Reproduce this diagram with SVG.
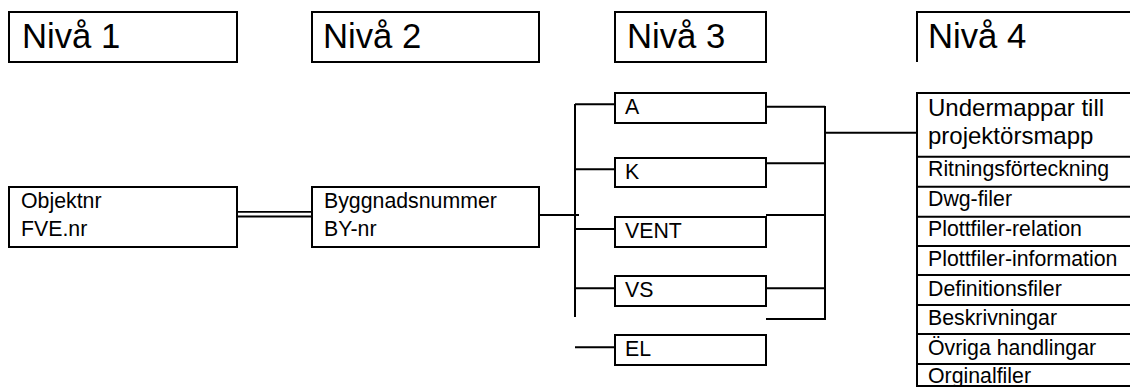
<svg xmlns="http://www.w3.org/2000/svg" width="1130" height="387" viewBox="0 0 1130 387">
<style>
.box{fill:#fff;stroke:#000;stroke-width:2}
.ln{fill:none;stroke:#000;stroke-width:2}
.thin{fill:none;stroke:#000;stroke-width:1.8}
text{font-family:"Liberation Sans",Arial,sans-serif;fill:#000}
.h{font-size:34.7px}
.t{font-size:21.3px}
.b{font-size:24px}
</style>
<rect width="1130" height="387" fill="#fff"/>
<g id="niva1"><rect class="box" x="9" y="12" width="228" height="50"/><text class="h" x="22" y="48">Nivå 1</text></g>
<g id="niva2"><rect class="box" x="312" y="12" width="227" height="50"/><text class="h" x="323" y="48">Nivå 2</text></g>
<g id="niva3"><rect class="box" x="615" y="12" width="151" height="50"/><text class="h" x="627" y="48">Nivå 3</text></g>
<g id="niva4"><path class="ln" d="M917,62 V12 H1132"/><text class="h" x="928" y="48">Nivå 4</text></g>

<g id="objektnr"><rect class="box" x="9" y="187" width="228" height="60"/><text class="t" x="21" y="208">Objektnr</text><text class="t" x="21" y="236">FVE.nr</text></g>
<g id="byggnad"><rect class="box" x="312" y="187" width="227" height="60"/><text class="t" x="324" y="208">Byggnadsnummer</text><text class="t" x="324" y="236">BY-nr</text></g>

<g id="connectors">
<path class="thin" d="M237,211.8 H312 M237,216.5 H312"/>
<path class="ln" d="M539,215 H579"/>
<path class="ln" d="M575,104 V317"/>
<path class="ln" d="M575,104.3 H615 M575,169.3 H615 M575,229 H615 M575,288.3 H615 M575,347.3 H615"/>
<path class="ln" d="M766,106.7 H825 M766,163.3 H825 M766,215 H825 M766,288.3 H825 M766,319 H825"/>
<path class="ln" d="M825,106 V320"/>
<path class="ln" d="M825,132.7 H917"/>
</g>

<g id="A"><rect class="box" x="615" y="93" width="151" height="30"/><text class="t" x="625" y="114">A</text></g>
<g id="K"><rect class="box" x="615" y="158" width="151" height="29"/><text class="t" x="625" y="179">K</text></g>
<g id="VENT"><rect class="box" x="615" y="217" width="151" height="30"/><text class="t" x="625" y="238">VENT</text></g>
<g id="VS"><rect class="box" x="615" y="276" width="151" height="30"/><text class="t" x="625" y="297">VS</text></g>
<g id="EL"><rect class="box" x="615" y="335" width="151" height="30"/><text class="t" x="625" y="356">EL</text></g>

<g id="niva4-lista">
<rect class="box" x="917" y="93" width="215" height="293"/>
<path class="ln" d="M917,156.7 H1132 M917,186.7 H1132 M917,216.7 H1132 M917,246 H1132 M917,275 H1132 M917,305 H1132 M917,334 H1132 M917,364 H1132"/>
<text class="b" x="928" y="116">Undermappar till</text>
<text class="b" x="928" y="143.5">projektörsmapp</text>
<text class="t" x="928" y="176">Ritningsförteckning</text>
<text class="t" x="928" y="206">Dwg-filer</text>
<text class="t" x="928" y="236">Plottfiler-relation</text>
<text class="t" x="928" y="266">Plottfiler-information</text>
<text class="t" x="928" y="295.5">Definitionsfiler</text>
<text class="t" x="928" y="325">Beskrivningar</text>
<text class="t" x="928" y="354.5">Övriga handlingar</text>
<text class="t" x="928" y="383">Orginalfiler</text>
</g>
</svg>
